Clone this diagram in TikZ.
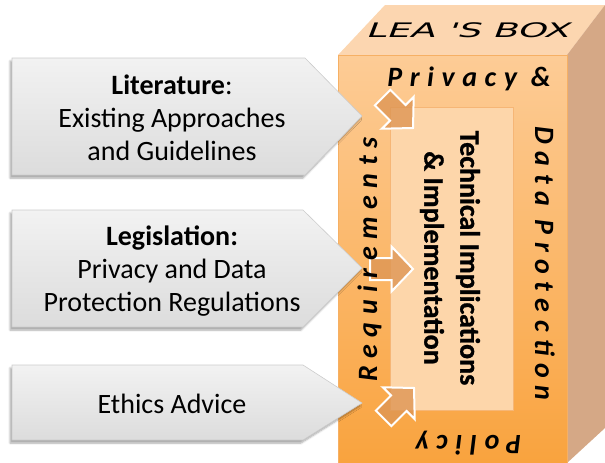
\documentclass[tikz,border=0pt]{standalone}
\usepackage{fontspec}
\setmainfont{Carlito}
\newfontfamily\boxlabelfont{DejaVu Sans}[FakeSlant=0.38, FakeStretch=1.85]
\newfontfamily\techfont{Carlito Bold}[FakeBold=1]
\newfontfamily\framefont{Carlito Bold Italic}[LetterSpace=27]
\usetikzlibrary{shadows.blur}

\definecolor{boxtop}{RGB}{252,214,176}
\definecolor{boxside}{RGB}{213,168,134}
\definecolor{frontlight}{RGB}{253,204,150}
\definecolor{frontdark}{RGB}{249,163,62}
\definecolor{frontedge}{RGB}{246,176,100}
\definecolor{innerfill}{RGB}{253,214,170}
\definecolor{inneredge}{RGB}{246,182,118}
\definecolor{smallarrow}{RGB}{222,150,84}
\definecolor{greylight}{RGB}{242,242,242}
\definecolor{greydark}{RGB}{220,220,220}

\tikzset{
  inarrow/.style={top color=greylight, bottom color=greydark, draw=gray!40,
    line width=0.6pt, line join=miter,
    blur shadow={shadow xshift=-2pt, shadow yshift=-3pt, shadow blur steps=6,
      shadow opacity=35}},
  intext/.style={align=center, font=\fontsize{28}{33}\selectfont, inner sep=0pt},
  smallarr/.style={fill=smallarrow, fill opacity=0.8, draw=white,
    line width=2pt, line join=miter},
  frametext/.style={inner sep=0pt, anchor=base,
    font=\framefont\fontsize{28}{28}\selectfont},
}

\begin{document}
\begin{tikzpicture}[x=1pt, y=-1pt]
\useasboundingbox (0,0) rectangle (605,463);

% the box: top, side and front faces
\fill[boxtop] (338,55) -- (385,5) -- (605,5) -- (567,55) -- cycle;
\fill[boxside] (567,55) -- (605,5) -- (605,428) -- (567,463) -- cycle;
\node[anchor=north west, inner sep=0pt, minimum width=229pt, minimum height=408pt,
  top color=frontlight, bottom color=frontdark, draw=frontedge, line width=0.8pt]
  (front) at (338,55) {};
\node[anchor=north west, inner sep=0pt, minimum width=123pt, minimum height=303pt,
  fill=innerfill, draw=inneredge, line width=0.6pt] (inner) at (390,107) {};

% inner panel text
\node[inner sep=0pt, align=center, rotate=-90,
  font=\techfont\fontsize{28}{36}\selectfont] (tech) at (450,258)
  {Technical Implications\\\& Implementation};

% input arrows
\path[inarrow] (12,58) -- (305,58) -- (362,116) -- (305,175) -- (12,175) -- cycle;
\path[inarrow] (12,210) -- (303,210) -- (362,268) -- (303,327) -- (12,327) -- cycle;
\path[inarrow] (12,365) -- (303,365) -- (362,403) -- (303,440) -- (12,440) -- cycle;

\node[intext] (lit) at (172,118) {\textbf{Literature}:\\Existing Approaches\\and Guidelines};
\node[intext] (leg) at (172,271.5) {\textbf{Legislation:}\\Privacy and Data\\Protection Regulations};
\node[intext] (eth) at (172,404) {Ethics Advice};

% small arrows into the inner panel
\begin{scope}[shift={(397.8,112.8)}, rotate=-45]
  \draw[smallarr] (-21.5,-11) -- (0,-11) -- (0,-22.5) -- (21.5,0) -- (0,22.5) -- (0,11) -- (-21.5,11) -- cycle;
\end{scope}
\begin{scope}[shift={(391.5,269)}]
  \draw[smallarr] (-21.5,-11) -- (0,-11) -- (0,-22.5) -- (21.5,0) -- (0,22.5) -- (0,11) -- (-21.5,11) -- cycle;
\end{scope}
\begin{scope}[shift={(398.8,403.2)}, rotate=45]
  \draw[smallarr] (-21.5,-11) -- (0,-11) -- (0,-22.5) -- (21.5,0) -- (0,22.5) -- (0,11) -- (-21.5,11) -- cycle;
\end{scope}

% labels around the frame
\node[frametext] (privacy) at (469,86) {Privacy \&};
\node[frametext, rotate=-90] (dataprot) at (535,263.5) {Data Protection};
\node[frametext, rotate=180] (policy) at (468.5,435) {Policy};
\node[frametext, rotate=90] (requirements) at (377,259.5) {Requirements};

% lid label
\node[inner sep=0pt, anchor=base, font=\boxlabelfont\fontsize{20}{20}\selectfont]
  (lid) at (467,37) {LEA 'S BOX};
\end{tikzpicture}
\end{document}
